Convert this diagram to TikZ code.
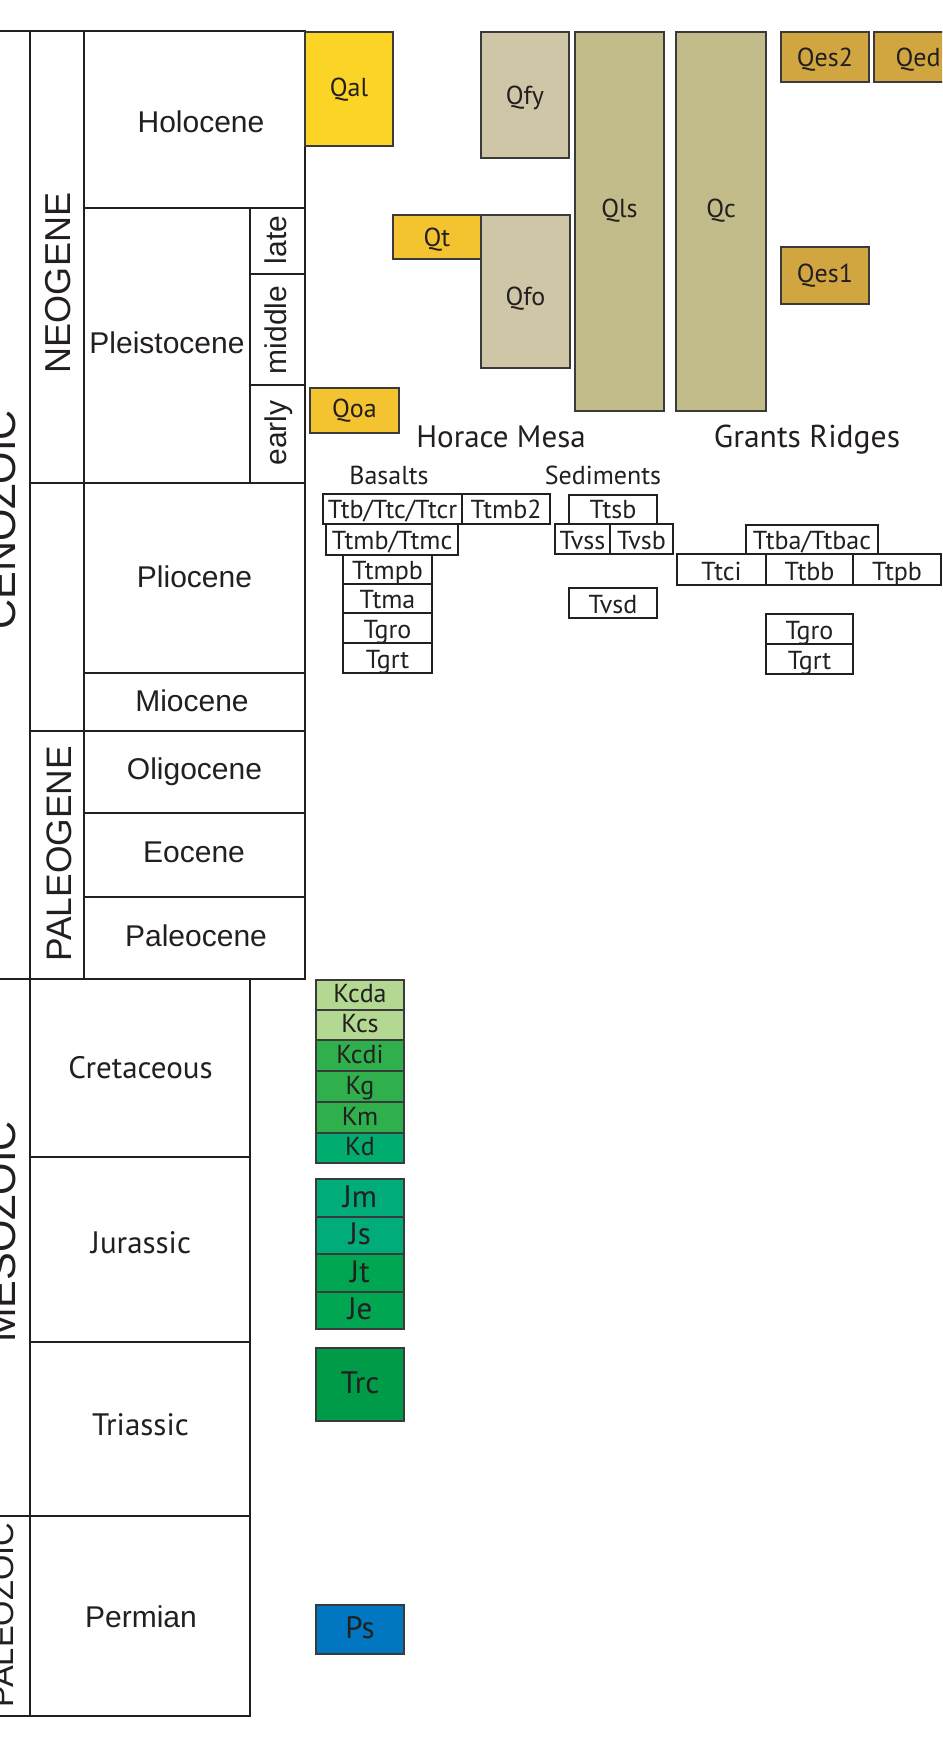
\documentclass[tikz,border=0pt]{standalone}
\usepackage{fontspec}
\setmainfont{Liberation Sans}
\newfontfamily\myr{PT Sans}
\definecolor{ink}{HTML}{231F20}
\definecolor{edge}{HTML}{3A3A3A}
\definecolor{qal}{RGB}{251,212,38}
\definecolor{qt}{RGB}{243,195,48}
\definecolor{qfy}{RGB}{206,198,166}
\definecolor{qls}{RGB}{194,188,138}
\definecolor{qes}{RGB}{209,166,64}
\definecolor{klight}{RGB}{178,216,146}
\definecolor{kmid}{RGB}{47,176,76}
\definecolor{kd}{RGB}{0,173,110}
\definecolor{jms}{RGB}{0,173,122}
\definecolor{jte}{RGB}{0,166,81}
\definecolor{trc}{RGB}{0,155,72}
\definecolor{psc}{RGB}{0,119,192}
\newcommand\fs[1]{\fontsize{#1}{#1}\selectfont}
% colored box: name, x1, y1, x2, y2, fill, text, baseline
\newcommand\cbox[8]{%
  \path[cb,fill=#6] (#2,#3) rectangle (#4,#5);
  \node[anchor=base] (#1) at ({(#2+#4)/2},#8) {#7};}
% white box: name, x1, y1, x2, y2, text
\newcommand\wbox[6]{%
  \path[wb] (#2,#3) rectangle (#4,#5);
  \node[anchor=base] (#1) at ({(#2+#4)/2},{#5-5}) {#6};}
\begin{document}
\begin{tikzpicture}[x=0.5pt,y=-0.5pt,
  grid/.style={draw=ink,line width=1.25pt,line cap=rect},
  cb/.style={draw=edge,line width=0.75pt},
  wb/.style={draw=ink,line width=0.6pt,fill=white},
  every node/.style={text=ink,inner sep=0pt}]
\useasboundingbox (0,0) rectangle (942,1748);
\clip (0,0) rectangle (942,1748);
\fill[white] (0,0) rectangle (942,1748);

% ---------- time scale grid ----------
\draw[grid] (0,31) -- (305,31);
\draw[grid] (84,208) -- (305,208);
\draw[grid] (250,274) -- (305,274);
\draw[grid] (250,385) -- (305,385);
\draw[grid] (30,483) -- (305,483);
\draw[grid] (84,673) -- (305,673);
\draw[grid] (30,731) -- (305,731);
\draw[grid] (84,813) -- (305,813);
\draw[grid] (84,897) -- (305,897);
\draw[grid] (0,979) -- (305,979);
\draw[grid] (30,1157) -- (250,1157);
\draw[grid] (30,1342) -- (250,1342);
\draw[grid] (0,1516) -- (250,1516);
\draw[grid] (0,1716) -- (250,1716);
\draw[grid] (30,31) -- (30,1716);
\draw[grid] (84,31) -- (84,979);
\draw[grid] (250,208) -- (250,483);
\draw[grid] (305,31) -- (305,979);
\draw[grid] (250,979) -- (250,1716);

% ---------- era labels ----------
\node[anchor=base,rotate=90,font=\fs{20.8}] (cenozoic) at (15,520) {CENOZOIC};
\node[anchor=base,rotate=90,font=\fs{20.8}] (mesozoic) at (16,1232) {MESOZOIC};
\node[anchor=base,rotate=90,font=\fs{16.3}] (paleozoic) at (13,1615) {PALEOZOIC};

% ---------- period labels ----------
\node[anchor=base,rotate=90,font=\fs{18}] (neogene) at (70,283) {NEOGENE};
\node[anchor=base,rotate=90,font=\fs{17.7}] (paleogene) at (71,854) {PALEOGENE};
\begin{scope}[font=\myr\fs{15.5}]
\node[anchor=base] (cretaceous) at (140.5,1078) {Cretaceous};
\node[anchor=base] (jurassic) at (141,1253) {Jurassic};
\node[anchor=base] (triassic) at (140.5,1435) {Triassic};
\end{scope}

% ---------- epoch labels ----------
\begin{scope}[font=\fs{15}]
\node[anchor=base] (holocene) at (201,133) {Holocene};
\node[anchor=base] (pleistocene) at (167,354) {Pleistocene};
\node[anchor=base] (pliocene) at (194.5,587) {Pliocene};
\node[anchor=base] (miocene) at (192,711) {Miocene};
\node[anchor=base] (oligocene) at (194.5,779) {Oligocene};
\node[anchor=base] (eocene) at (194,862) {Eocene};
\node[anchor=base] (paleocene) at (196,946) {Paleocene};
\node[anchor=base] (permian) at (141,1627) {Permian};
\node[anchor=base,rotate=90] (late) at (286,240) {late};
\node[anchor=base,rotate=90] (middle) at (286,330) {middle};
\node[anchor=base,rotate=90] (early) at (286,433) {early};
\end{scope}

% ---------- Quaternary units ----------
\begin{scope}[font=\myr\fs{13}]
\cbox{qal}{305}{32}{393}{146}{qal}{Qal}{97}
\cbox{qfy}{481}{32}{569}{158}{qfy}{Qfy}{105}
\cbox{qls}{575}{32}{664}{411}{qls}{Qls}{218}
\cbox{qc}{676}{32}{766}{411}{qls}{Qc}{218}
\cbox{qes2}{781}{32}{869}{82}{qes}{Qes2}{67}
\cbox{qed}{874}{32}{962}{82}{qes}{Qed}{67}
\cbox{qt}{393}{215}{481}{259}{qt}{Qt}{247}
\cbox{qfo}{481}{215}{570}{368}{qfy}{Qfo}{306}
\cbox{qes1}{781}{247}{869}{304}{qes}{Qes1}{283}
\cbox{qoa}{310}{388}{399}{433}{qt}{Qoa}{418}
\end{scope}

% ---------- headings ----------
\node[anchor=base,font=\myr\fs{15.5}] (horace) at (501,448) {Horace Mesa};
\node[anchor=base,font=\myr\fs{15.8}] (grants) at (807,448) {Grants Ridges};
\node[anchor=base,font=\myr\fs{13}] (basalts) at (389,485) {Basalts};
\node[anchor=base,font=\myr\fs{13}] (sediments) at (603,485) {Sediments};

% ---------- Tertiary units ----------
\begin{scope}[font=\myr\fs{13}]
\wbox{ttb}{323}{494}{462}{524}{Ttb/Ttc/Ttcr}
\wbox{ttmbb}{462}{494}{550}{524}{Ttmb2}
\wbox{ttmb}{326}{524}{458}{555}{Ttmb/Ttmc}
\wbox{ttmpb}{343}{555}{432}{584}{Ttmpb}
\wbox{ttma}{343}{584}{432}{613}{Ttma}
\wbox{tgroa}{343}{613}{432}{643}{Tgro}
\wbox{tgrta}{343}{643}{432}{673}{Tgrt}
\wbox{ttsb}{569}{495}{657}{524}{Ttsb}
\wbox{tvss}{555}{524}{610}{554}{Tvss}
\wbox{tvsb}{610}{524}{673}{554}{Tvsb}
\wbox{tvsd}{569}{588}{657}{618}{Tvsd}
\wbox{ttba}{746}{525}{878}{554}{Ttba/Ttbac}
\wbox{ttci}{677}{554}{766}{585}{Ttci}
\wbox{ttbb}{766}{554}{853}{585}{Ttbb}
\wbox{ttpb}{853}{554}{941}{585}{Ttpb}
\wbox{tgrob}{766}{614}{853}{644}{Tgro}
\wbox{tgrtb}{766}{644}{853}{674}{Tgrt}
\end{scope}

% ---------- Mesozoic / Paleozoic units ----------
\begin{scope}[font=\myr\fs{13}]
\cbox{kcda}{316}{980}{404}{1010}{klight}{Kcda}{1002}
\cbox{kcs}{316}{1010}{404}{1040}{klight}{Kcs}{1032}
\cbox{kcdi}{316}{1040}{404}{1071}{kmid}{Kcdi}{1063}
\cbox{kg}{316}{1071}{404}{1102}{kmid}{Kg}{1094}
\cbox{km}{316}{1102}{404}{1133}{kmid}{Km}{1125}
\cbox{kd}{316}{1133}{404}{1163}{kd}{Kd}{1155}
\end{scope}
\begin{scope}[font=\myr\fs{15.5}]
\cbox{jm}{316}{1179}{404}{1217}{jms}{Jm}{1207.5}
\cbox{js}{316}{1217}{404}{1254}{jms}{Js}{1244.5}
\cbox{jt}{316}{1254}{404}{1292}{jte}{Jt}{1282.5}
\cbox{je}{316}{1292}{404}{1329}{jte}{Je}{1319.5}
\cbox{trc}{316}{1348}{404}{1421}{trc}{Trc}{1393}
\cbox{ps}{316}{1605}{404}{1654}{psc}{Ps}{1638}
\end{scope}
\end{tikzpicture}
\end{document}
